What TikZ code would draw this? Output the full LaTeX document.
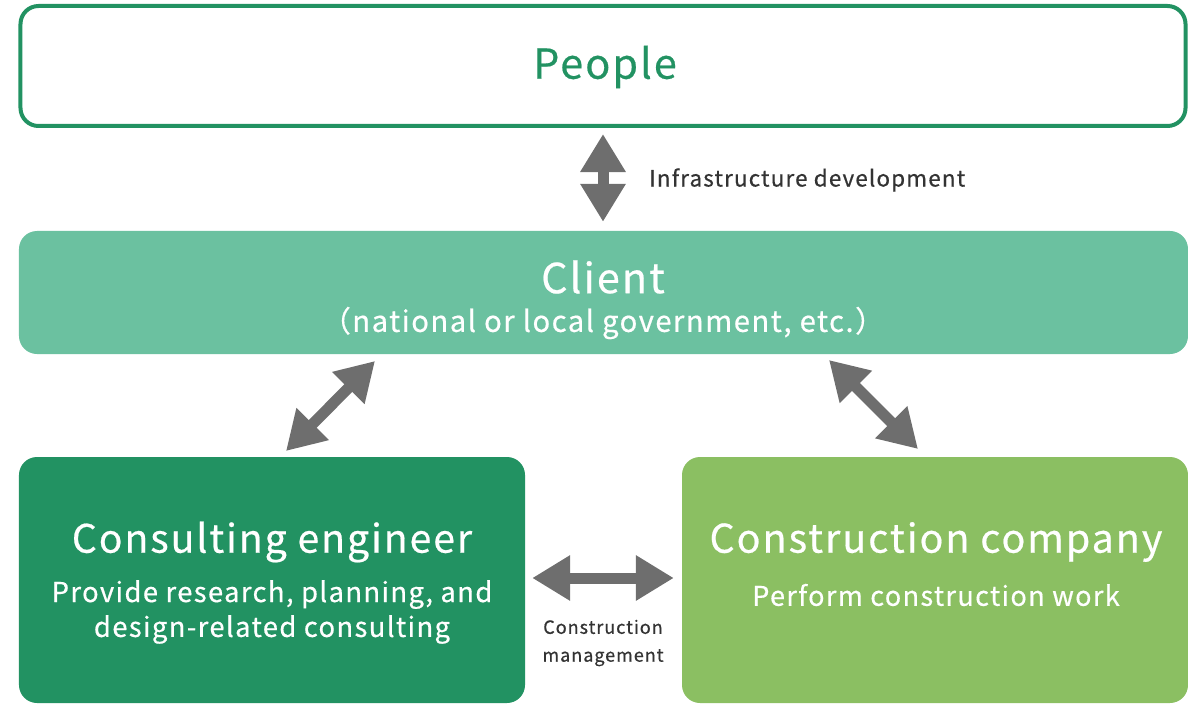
\documentclass[tikz,border=0pt]{standalone}
\usepackage{fontspec}
\setmainfont{Noto Sans CJK JP}[LetterSpace=5,FakeBold=0.5]
\usetikzlibrary{arrows.meta}
\definecolor{dgreen}{HTML}{229262}
\definecolor{mgreen}{HTML}{6BC1A0}
\definecolor{lgreen}{HTML}{8BBF62}
\definecolor{agray}{HTML}{6E6E6E}
\definecolor{tgray}{HTML}{333333}
\tikzset{
  box/.style={rounded corners=18bp, inner sep=0pt, align=center},
  dbl/.style={draw=agray, line width=11bp,
    {Triangle[length=38bp,width=43bp]}-{Triangle[length=38bp,width=43bp]}},
  lbl/.style={text=tgray, inner sep=0pt},
  wt/.style={text=white, inner sep=0pt, align=center}
}
\begin{document}
\begin{tikzpicture}[x=1bp,y=-1bp]
\useasboundingbox (0,0) rectangle (1188,705);
\node[box, draw=dgreen, line width=4bp, minimum width=1165bp, minimum height=120bp] (people) at (603,66) {};
\node[inner sep=0pt, text=dgreen, font=\fontsize{41.5}{48}\selectfont] (peopleT) at (605,67) {People};
\node[box, fill=mgreen, minimum width=1169bp, minimum height=123bp] (client) at (603.5,292.5) {};
\node[wt, font=\fontsize{41.5}{48}\selectfont] (clientT) at (603,277) {Client};
\node[wt, font=\fontsize{29.4}{30}\selectfont] (clientS) at (603,323) {（national or local government, etc.）};
\node[box, fill=dgreen, minimum width=506bp, minimum height=246bp] (cons) at (272,580) {};
\node[box, fill=lgreen, minimum width=506bp, minimum height=246bp] (comp) at (935,580) {};
\node[wt, font=\fontsize{39.3}{48}\selectfont] (consT) at (272,542) {Consulting engineer};
\node[wt, font=\fontsize{27.5}{35}\selectfont] (consS) at (272,612) {Provide research, planning, and\\design-related consulting};
\node[wt, font=\fontsize{39.6}{48}\selectfont] (compT) at (936,542) {Construction company};
\node[wt, font=\fontsize{27.2}{30}\selectfont] (compS) at (936,595) {Perform construction work};
\node[lbl, anchor=west, font=\fontsize{22.6}{25}\selectfont] (infra) at (649,180) {Infrastructure development};
\node[lbl, align=center, font=\fontsize{18.2}{28}\selectfont] (cm) at (603,643) {Construction\\management};
\coordinate (a1) at (286,451);
\coordinate (a2) at (375,361);
\coordinate (b1) at (829,360);
\coordinate (b2) at (918,449);
\draw[dbl, shorten <=6bp, shorten >=9bp] (people.south -| clientT) -- (client.north -| clientT);
\draw[dbl] (a1) -- (a2);
\draw[dbl] (b1) -- (b2);
\draw[dbl, shorten <=7bp, shorten >=8bp] (cons.east |- 0,578) -- (comp.west |- 0,578);
\end{tikzpicture}
\end{document}
